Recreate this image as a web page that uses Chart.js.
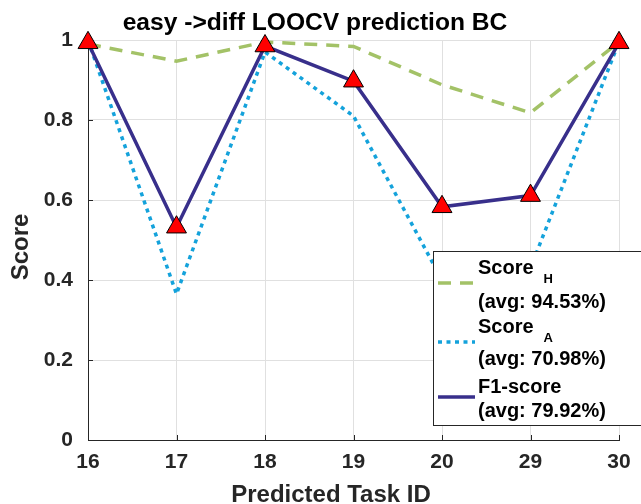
<!DOCTYPE html>
<html>
<head>
<meta charset="utf-8">
<script src="https://cdn.jsdelivr.net/npm/chart.js@4/dist/chart.umd.min.js"></script>
<style>
  html, body { margin: 0; padding: 0; background: #ffffff; }
  #wrap { width: 641px; height: 504px; }
</style>
</head>
<body>
<div id="wrap"><canvas id="c" width="641" height="504"></canvas></div>
<script>
// Task IDs on the x axis
const taskIds = ['16', '17', '18', '19', '20', '29', '30'];

// Per-task scores
const scoreH  = [0.990, 0.947, 0.995, 0.984, 0.888, 0.818, 0.995];
const scoreA  = [1.000, 0.365, 0.970, 0.810, 0.400, 0.430, 0.995];
const f1Score = [0.993, 0.532, 0.985, 0.897, 0.583, 0.611, 0.993];

// Legend text
const seriesNames = ['Score', 'Score', 'F1-score'];
const seriesSubs  = ['H', 'A', ''];
const seriesAvgs  = ['94.53', '70.98', '79.92'];

// Y ticks
const yTickValues = [0, 0.2, 0.4, 0.6, 0.8, 1];

// Titles
const chartTitle = 'easy ->diff LOOCV prediction BC';
const xTitle = 'Predicted Task ID';
const yTitle = 'Score';

const FONT = '"Liberation Sans", Arial, Helvetica, sans-serif';
const TEXT = '#262626';

// Chart title and axis titles
const titles = {
  id: 'titles',
  afterDraw(chart) {
    const { ctx } = chart;
    ctx.save();
    ctx.textBaseline = 'alphabetic';
    ctx.textAlign = 'center';
    ctx.fillStyle = '#000000';
    ctx.font = 'bold 24.6px ' + FONT;
    ctx.fillText(chartTitle, 315, 30);
    ctx.fillStyle = TEXT;
    ctx.font = 'bold 24px ' + FONT;
    ctx.fillText(xTitle, 331, 502);
    ctx.translate(28, 247);
    ctx.rotate(-Math.PI / 2);
    ctx.fillText(yTitle, 0, 0);
    ctx.restore();
  }
};

// Inward tick marks on the left and bottom axes
const innerTicks = {
  id: 'innerTicks',
  beforeDatasetsDraw(chart) {
    const { ctx, chartArea: a, scales: { x, y } } = chart;
    ctx.save();
    ctx.strokeStyle = TEXT;
    ctx.lineWidth = 1;
    ctx.beginPath();
    for (let i = 0; i < taskIds.length; i++) {
      const px = Math.round(x.getPixelForTick(i)) + 0.5;
      ctx.moveTo(px, a.bottom);
      ctx.lineTo(px, a.bottom - 5);
    }
    yTickValues.forEach(v => {
      const py = Math.round(y.getPixelForValue(v)) + 0.5;
      ctx.moveTo(a.left, py);
      ctx.lineTo(a.left + 5, py);
    });
    ctx.stroke();
    ctx.restore();
  }
};

// Boxed legend with subscripted names and averages
const boxLegend = {
  id: 'boxLegend',
  afterDraw(chart) {
    const { ctx } = chart;
    const left = 433.5, top = 251.5, w = 220, h = 174;
    ctx.save();
    ctx.fillStyle = '#ffffff';
    ctx.fillRect(left, top, w, h);
    ctx.strokeStyle = TEXT;
    ctx.lineWidth = 1;
    ctx.strokeRect(left, top, w, h);

    const order = [2, 1, 0]; // H, A, F1 dataset indices
    const sampleY = [283, 342, 397];
    const nameBase = [274, 333, 393];
    const avgBase = [308, 365, 417];
    order.forEach((di, k) => {
      const ds = chart.data.datasets[di];
      ctx.save();
      ctx.strokeStyle = ds.borderColor;
      ctx.lineWidth = ds.borderWidth;
      ctx.setLineDash(ds.borderDash || []);
      ctx.beginPath();
      ctx.moveTo(438, sampleY[k]);
      ctx.lineTo(475, sampleY[k]);
      ctx.stroke();
      ctx.restore();

      ctx.fillStyle = '#000000';
      ctx.textBaseline = 'alphabetic';
      ctx.textAlign = 'left';
      ctx.font = 'bold 20px ' + FONT;
      ctx.fillText(seriesNames[k], 478, nameBase[k]);
      if (seriesSubs[k]) {
        const wName = ctx.measureText(seriesNames[k]).width;
        ctx.font = 'bold 13px ' + FONT;
        ctx.fillText(seriesSubs[k], 478 + wName + 10, nameBase[k] + 9);
      }
      ctx.font = 'bold 20px ' + FONT;
      ctx.fillText('(avg: ' + seriesAvgs[k] + '%)', 478, avgBase[k]);
    });
    ctx.restore();
  }
};

new Chart(document.getElementById('c'), {
  type: 'line',
  data: {
    labels: taskIds,
    datasets: [
      {
        label: 'F1-score',
        data: f1Score,
        order: 1,
        borderColor: '#382f8b',
        borderWidth: 3.5,
        pointStyle: 'triangle',
        pointRadius: 11.5,
        pointBackgroundColor: '#ff0000',
        pointBorderColor: '#000000',
        pointBorderWidth: 1,
        clip: false
      },
      {
        label: 'Score A',
        data: scoreA,
        order: 2,
        borderColor: '#14a2db',
        borderWidth: 3.5,
        borderDash: [4, 4.5],
        pointRadius: 0,
        clip: false
      },
      {
        label: 'Score H',
        data: scoreH,
        order: 3,
        borderColor: '#a3c267',
        borderWidth: 3.5,
        borderDash: [13, 9],
        pointRadius: 0,
        clip: false
      }
    ]
  },
  options: {
    responsive: false,
    animation: false,
    devicePixelRatio: 1,
    layout: { padding: { left: 0, right: 22, top: 40, bottom: 0 } },
    plugins: {
      legend: { display: false },
      tooltip: { enabled: false },
      title: { display: false }
    },
    scales: {
      x: {
        type: 'category',
        offset: false,
        grid: { color: '#e0e0e0', lineWidth: 1, drawTicks: false },
        border: { color: TEXT, width: 1 },
        ticks: {
          color: TEXT,
          padding: 10,
          maxRotation: 0,
          font: { family: FONT, size: 21, weight: 'bold' }
        },
        afterFit(s) { s.height = 64; }
      },
      y: {
        min: 0,
        max: 1,
        grid: { color: '#e0e0e0', lineWidth: 1, drawTicks: false },
        border: { color: TEXT, width: 1 },
        afterBuildTicks(s) { s.ticks = yTickValues.map(v => ({ value: v })); },
        ticks: {
          color: TEXT,
          padding: 15,
          font: { family: FONT, size: 21, weight: 'bold' },
          callback: v => String(Math.round(v * 10) / 10)
        },
        afterFit(s) { s.width = 88; }
      }
    }
  },
  plugins: [innerTicks, boxLegend, titles]
});
</script>
</body>
</html>
